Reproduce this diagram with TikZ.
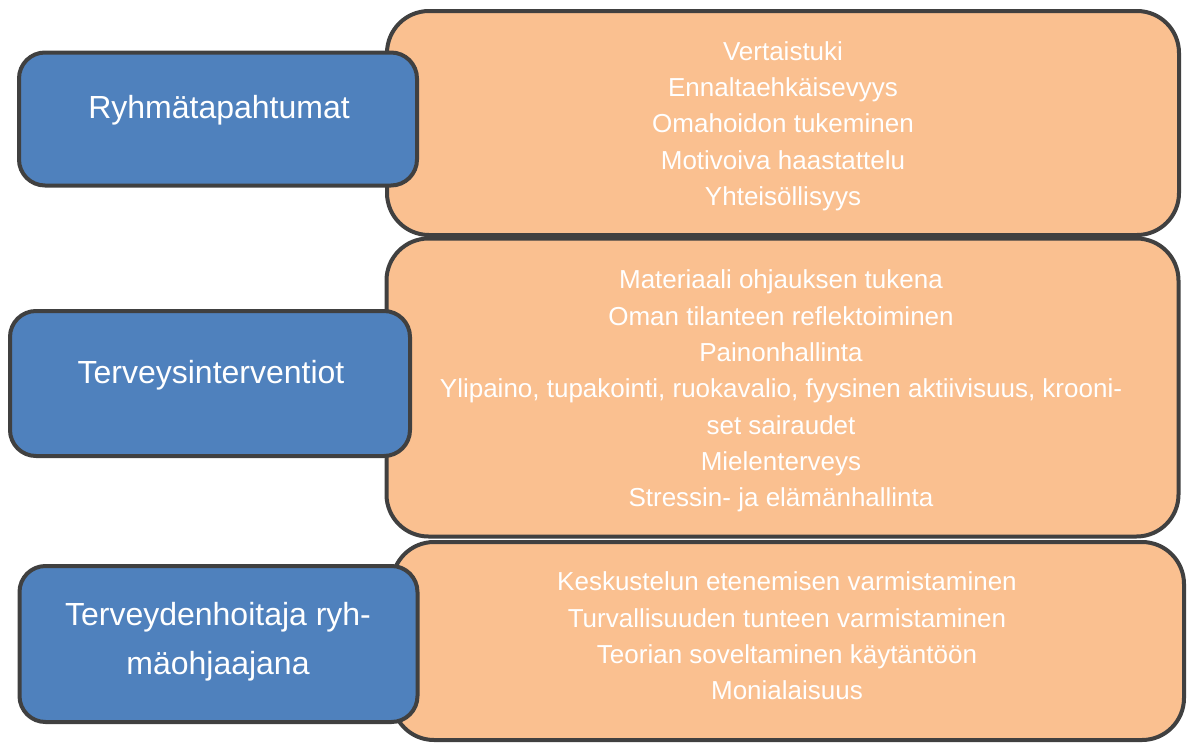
\documentclass[tikz,border=0pt]{standalone}
\usepackage{fontspec}
\setmainfont{Liberation Sans}
\definecolor{boxblue}{HTML}{4F81BD}
\definecolor{boxorange}{HTML}{FAC090}
\definecolor{edgegray}{HTML}{404040}
\begin{document}
\begin{tikzpicture}[x=1pt,y=-1pt,
  obox/.style={draw=edgegray,line width=4pt,fill=boxorange,rounded corners=42pt,inner sep=0pt},
  bbox/.style={draw=edgegray,line width=4pt,fill=boxblue,rounded corners=26pt,inner sep=0pt},
  otext/.style={text=white,align=center,font=\fontsize{26}{36.3}\selectfont,inner sep=0pt},
  btext/.style={text=white,align=center,font=\fontsize{32}{49}\selectfont,inner sep=0pt}]
\useasboundingbox (0,0) rectangle (1192,742);
% orange boxes
\node[obox,minimum width=792pt,minimum height=224pt] (o1) at (783,123) {};
\node[obox,minimum width=792pt,minimum height=298pt] (o2) at (782.5,387.5) {};
\node[obox,minimum width=792pt,minimum height=198pt] (o3) at (788,641) {};
\node[otext] (t1) at (783,126) {Vertaistuki\\Ennaltaehkäisevyys\\Omahoidon tukeminen\\Motivoiva haastattelu\\Yhteisöllisyys};
\node[otext] (t2) at (781,391) {Materiaali ohjauksen tukena\\Oman tilanteen reflektoiminen\\Painonhallinta\\Ylipaino, tupakointi, ruokavalio, fyysinen aktiivisuus, krooni-\\set sairaudet\\Mielenterveys\\Stressin- ja elämänhallinta};
\node[otext] (t3) at (787,636) {Keskustelun etenemisen varmistaminen\\Turvallisuuden tunteen varmistaminen\\Teorian soveltaminen käytäntöön\\Monialaisuus};
% blue boxes
\node[bbox,minimum width=398pt,minimum height=133pt] (b1) at (218,119) {};
\node[bbox,minimum width=400pt,minimum height=145pt] (b2) at (210,383.5) {};
\node[bbox,minimum width=398pt,minimum height=156pt] (b3) at (218.5,644) {};
\node[btext] (h1) at (219,110) {Ryhmätapahtumat};
\node[btext] (h2) at (211,375) {Terveysinterventiot};
\node[btext] (h3) at (218,642) {Terveydenhoitaja ryh-\\mäohjaajana};
\end{tikzpicture}
\end{document}
